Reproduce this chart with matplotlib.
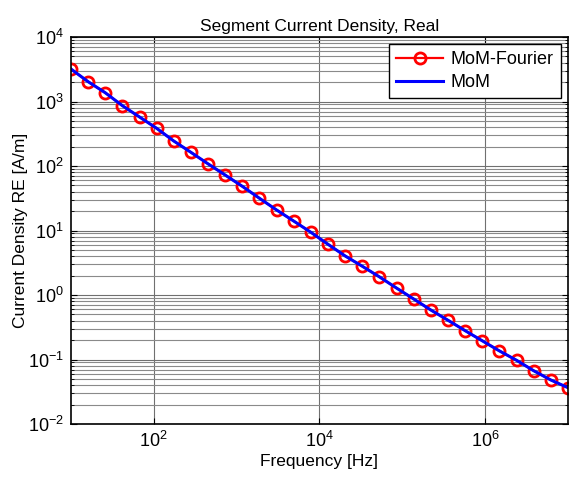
import numpy as np
import matplotlib
matplotlib.use("Agg")
import matplotlib.pyplot as plt
from matplotlib.ticker import FixedLocator, LogLocator, NullFormatter, FuncFormatter, NullLocator

plt.rcParams['font.family'] = ['Liberation Sans', 'DejaVu Sans']
plt.rcParams['mathtext.fontset'] = 'custom'
plt.rcParams['mathtext.rm'] = 'Liberation Sans'

# frequencies [Hz] (30 log-spaced samples, 10 Hz .. 10 MHz)
freq = [10, 16.1, 25.9, 41.8, 67.3, 108.3, 174.3, 280.7, 452, 727.9,
        1172, 1887, 3039, 4894, 7880, 12690, 20430, 32900, 52980, 85310,
        137400, 221200, 356200, 573600, 923600, 1487000, 2395000, 3857000,
        6210000, 10000000]

# current density, real part [A/m]
j_fourier = [3190, 2030, 1370, 861, 575, 384, 244, 163, 108, 72.4,
             48.4, 31.6, 20.8, 14.0, 9.38, 6.11, 4.03, 2.79, 1.91, 1.28,
             0.867, 0.585, 0.406, 0.280, 0.195, 0.136, 0.0973, 0.0670,
             0.0481, 0.0366]
j_mom = j_fourier

x_ticks = [1e2, 1e4, 1e6]
y_ticks = [1e-2, 1e-1, 1e0, 1e1, 1e2, 1e3, 1e4]

fig = plt.figure(figsize=(5.71, 4.82), dpi=100)
ax = fig.add_axes([0.1243, 0.1203, 0.8704, 0.8029])

ax.loglog(freq, j_fourier, color='red', lw=1.6, marker='o', ms=8,
          mfc='none', mec='red', mew=2.0, label='MoM-Fourier')
ax.loglog(freq, j_mom, color='blue', lw=2.2, label='MoM')

ax.set_xlim(10, 1e7)
ax.set_ylim(1e-2, 1e4)

fmt = FuncFormatter(lambda v, p: r'$\mathregular{10^{%d}}$' % round(np.log10(v)))
ax.xaxis.set_major_locator(FixedLocator(x_ticks))
ax.xaxis.set_minor_locator(NullLocator())
ax.xaxis.set_major_formatter(fmt)
ax.yaxis.set_major_locator(FixedLocator(y_ticks))
ax.yaxis.set_minor_locator(LogLocator(base=10, subs=np.arange(2, 10), numticks=20))
ax.yaxis.set_minor_formatter(NullFormatter())
ax.yaxis.set_major_formatter(fmt)

ax.grid(True, which='major', axis='both', color='#707070', lw=0.8)
ax.grid(True, which='minor', axis='y', color='#8a8a8a', lw=0.8)
ax.tick_params(which='both', direction='in', top=True, right=True, labelsize=13)
ax.tick_params(which='major', length=4, pad=5)
ax.tick_params(which='minor', length=2)
for s in ax.spines.values():
    s.set_linewidth(1.2)

ax.set_xlabel('Frequency [Hz]', fontsize=12.5, labelpad=2)
ax.set_ylabel('Current Density RE [A/m]', fontsize=12.5, labelpad=0)
ax.set_title('Segment Current Density, Real', fontsize=12.5, pad=4)

leg = ax.legend(loc='upper right', fontsize=13, fancybox=False, framealpha=1,
                edgecolor='black', borderaxespad=0.4, handlelength=2.6,
                labelspacing=0.3, borderpad=0.4, handletextpad=0.4)
leg.get_frame().set_linewidth(1.0)

fig.savefig('out.png', dpi=100)
